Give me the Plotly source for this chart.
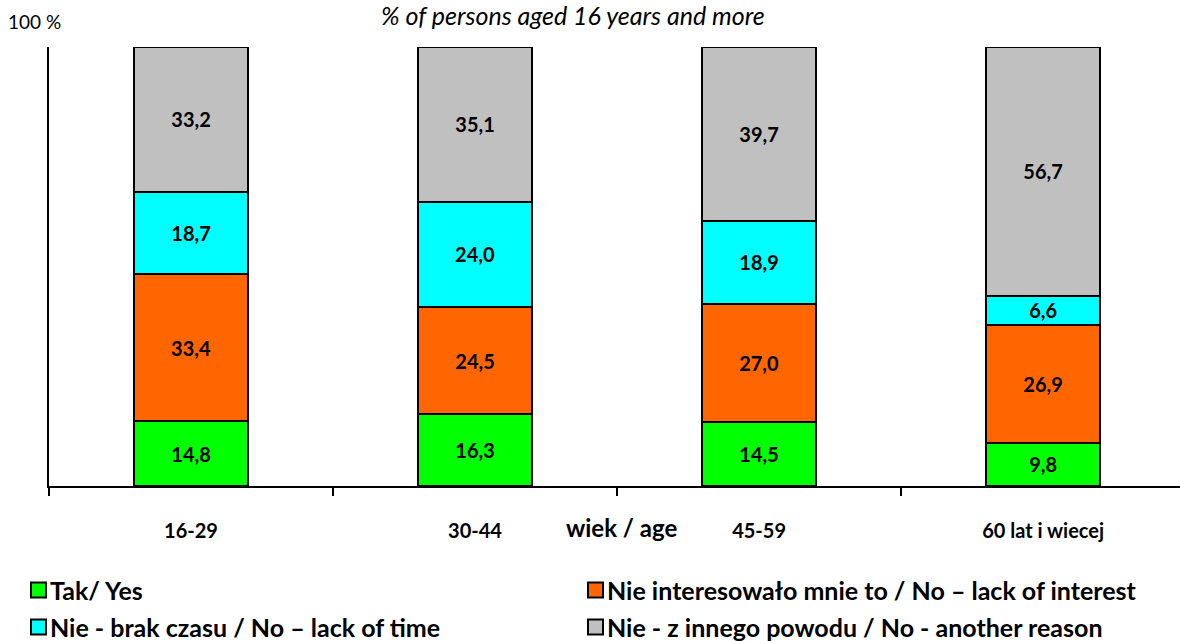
import plotly.graph_objects as go

categories = ["16-29", "30-44", "45-59", "60 lat i wiecej"]
series_names = [
    "Tak/ Yes",
    "Nie interesowało mnie to / No – lack of interest",
    "Nie - brak czasu / No – lack of time",
    "Nie - z innego powodu / No - another reason",
]
yes_vals = [14.8, 16.3, 14.5, 9.8]
interest_vals = [33.4, 24.5, 27.0, 26.9]
time_vals = [18.7, 24.0, 18.9, 6.6]
other_vals = [33.2, 35.1, 39.7, 56.7]
colors = ["#00FF00", "#FF6600", "#00FFFF", "#C0C0C0"]

FONT = "Lato"
W, H = 1180, 641
L, T = 49, 47
B = H - 486
PW, PH = W - L, H - T - B


def px(x):  # page pixel -> paper
    return (x - L) / PW


def py(y):
    return (H - B - y) / PH


fig = go.Figure()
for name, vals, col in zip(series_names, [yes_vals, interest_vals, time_vals, other_vals], colors):
    fig.add_trace(go.Bar(
        x=categories, y=vals, name=name, showlegend=False,
        marker=dict(color=col, line=dict(color="black", width=2)),
        width=0.4,
        text=[f"{v:.1f}".replace(".", ",") for v in vals],
        textposition="inside", insidetextanchor="middle",
        textfont=dict(family=FONT, size=20, color="black", weight="bold"),
        constraintext="none",
        hoverinfo="skip",
    ))

fig.update_layout(
    barmode="stack",
    width=W, height=H,
    margin=dict(l=L, r=0, t=T, b=B, autoexpand=False),
    plot_bgcolor="white", paper_bgcolor="white",
    font=dict(family=FONT, color="black"),
    showlegend=False,
    xaxis=dict(
        type="category", range=[-0.5, 3.482], automargin=False,
        showline=True, linecolor="black", linewidth=2,
        ticks="outside", tickson="boundaries", ticklen=8, tickwidth=2, tickcolor="black",
        tickfont=dict(family=FONT, size=20, weight="bold"),
        ticklabelstandoff=26,
        showgrid=False,
    ),
    yaxis=dict(
        range=[0, 100], showline=True, linecolor="black", linewidth=2, automargin=False,
        showticklabels=False, ticks="", showgrid=False, zeroline=False,
    ),
)

fig.add_annotation(text="100 %", x=px(6), y=py(21), xref="paper", yref="paper", showarrow=False,
                   xanchor="left", yanchor="middle", font=dict(family=FONT, size=19))
fig.add_annotation(text="<i>% of persons aged 16 years and more</i>", x=px(573), y=py(15),
                   xref="paper", yref="paper", showarrow=False, xanchor="center", yanchor="middle",
                   font=dict(family=FONT, size=25))
fig.add_annotation(text="<b>wiek / age</b>", x=px(621), y=py(527), xref="paper", yref="paper",
                   showarrow=False, xanchor="center", yanchor="middle",
                   font=dict(family=FONT, size=24))

# manual legend (2 columns x 2 rows)
leg_pos = [(31, 590), (588, 590), (31, 627), (588, 627)]
for name, col, (lx, ly) in zip(series_names, colors, leg_pos):
    fig.add_shape(type="rect", xref="paper", yref="paper",
                  x0=px(lx), x1=px(lx + 15), y0=py(ly - 7.5), y1=py(ly + 7.5),
                  fillcolor=col, line=dict(color="black", width=2))
    fig.add_annotation(text=f"<b>{name}</b>", x=px(lx + 17), y=py(ly), xref="paper", yref="paper",
                       showarrow=False, xanchor="left", yanchor="middle",
                       font=dict(family=FONT, size=25))

fig.write_html("out.html", config={"displayModeBar": False},
               post_script="document.body.style.margin='0';document.body.style.overflow='hidden';")
